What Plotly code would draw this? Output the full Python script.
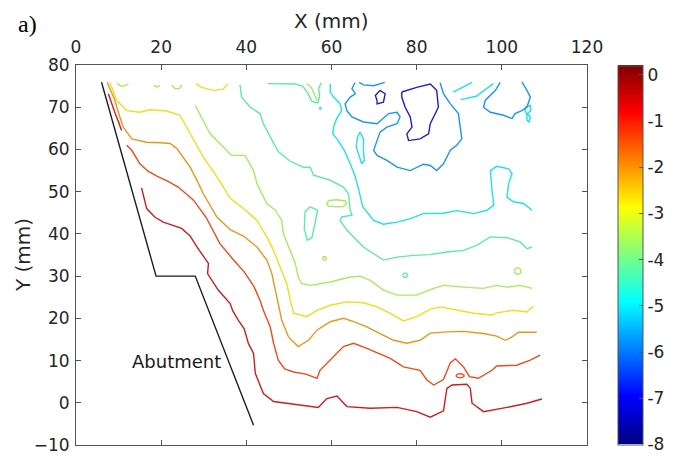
import plotly.graph_objects as go
from plotly.colors import sample_colorscale

# ---------------- data (mm) ----------------
x_ticks = [0, 20, 40, 60, 80, 100, 120]
y_ticks = [-10, 0, 10, 20, 30, 40, 50, 60, 70, 80]
cbar_ticks = [-8, -7, -6, -5, -4, -3, -2, -1, 0]

abutment_x = [6.0, 18.8, 28.0, 41.7]
abutment_y = [75.9, 30.0, 30.0, -5.3]
abutment_label = "Abutment"

levels = [-0.55, -1.29, -2.04, -2.78, -3.53, -4.27, -5.0, -5.76, -6.5, -7.25]

lvl_055 = [
    [(15.4, 50.9), (16.6, 46.0), (18.5, 44.0), (20.5, 42.8), (24.8, 41.3), (26.8, 39.5), (28.4, 36.9),
     (31.1, 33.0), (30.9, 30.6), (33.4, 26.7), (36.2, 23.5), (36.8, 21.8), (38.1, 19.6), (39.5, 17.5),
     (40.5, 14.0), (41.7, 11.7), (42.1, 7.0), (44.0, 2.2), (46.4, 0.3), (51.8, -0.5), (56.9, -1.1),
     (58.9, 1.0), (61.3, 1.6), (63.6, -0.9), (69.1, -1.3), (75.4, -1.1), (80.0, -2.1), (83.2, -3.4),
     (86.3, -1.9), (87.1, 3.4), (88.3, 4.2), (91.8, 4.4), (92.6, 3.4), (93.0, -0.1), (95.7, -2.1),
     (101.2, -1.1), (105.9, -0.1), (109.4, 0.9)],
    [(7.6, 73.2), (8.3, 71.0), (9.2, 68.5), (10.0, 66.5), (10.7, 64.5)],
]
lvl_129 = [
    [(11.9, 61.0), (13.1, 59.8), (15.0, 56.6), (17.0, 54.8), (19.0, 53.7), (21.5, 52.5), (24.0, 51.1),
     (27.6, 48.0), (30.5, 44.0), (33.8, 37.7), (37.0, 33.8), (39.5, 31.0), (41.8, 27.5), (43.2, 24.3),
     (44.0, 21.9), (45.6, 18.0), (46.4, 14.1), (47.5, 10.1), (49.0, 8.0), (51.1, 7.3), (54.0, 6.8),
     (56.6, 5.8), (57.3, 7.7), (59.7, 10.1), (62.8, 13.3), (65.2, 14.1), (68.3, 12.9), (73.8, 10.5),
     (76.9, 8.5), (80.8, 7.7), (82.4, 5.4), (84.0, 4.2), (86.3, 5.5), (87.9, 9.5), (89.1, 10.4),
     (91.0, 8.5), (92.4, 6.2), (94.5, 5.8), (97.7, 7.7), (98.8, 8.7), (103.5, 8.9), (106.7, 10.1),
     (109.0, 11.3)],
    [(89.2, 6.4), (89.6, 6.8), (90.4, 6.9), (91.1, 6.6), (91.1, 6.2), (90.4, 5.9), (89.6, 6.0), (89.2, 6.4)],
]
lvl_204 = [
    [(7.3, 75.9), (9.0, 72.0), (10.2, 68.0), (11.1, 65.3), (13.1, 62.5), (16.6, 61.7), (20.0, 61.6),
     (22.1, 61.4), (23.7, 60.2), (26.8, 55.8), (28.5, 52.5), (29.9, 49.5), (33.1, 44.0), (36.2, 41.0),
     (39.3, 39.5), (42.5, 36.9), (44.8, 33.8), (46.0, 30.6), (46.8, 26.7), (47.3, 24.3), (48.3, 19.6),
     (49.9, 15.6), (52.2, 13.3), (54.6, 14.8), (56.6, 17.2), (59.7, 19.2), (62.8, 20.0), (65.2, 19.2),
     (68.3, 18.0), (71.4, 16.4), (74.6, 14.8), (77.7, 14.1), (80.8, 14.8), (83.2, 16.5), (87.1, 16.8),
     (91.0, 16.9), (95.7, 16.4), (98.8, 15.8), (100.8, 14.8), (102.4, 15.6), (103.9, 16.7), (108.2, 16.7)],
]
lvl_278 = [
    [(7.9, 75.9), (9.6, 71.6), (11.9, 69.2), (15.0, 68.8), (17.4, 69.4), (21.3, 69.1), (24.4, 68.1),
     (26.8, 63.7), (29.9, 58.2), (33.1, 53.5), (36.2, 48.5), (39.3, 46.0), (42.5, 43.2), (44.8, 39.3),
     (46.4, 36.1), (47.9, 32.2), (49.5, 28.2), (50.3, 24.3), (51.1, 21.2), (54.2, 20.4), (56.6, 21.9),
     (59.7, 23.1), (63.6, 23.9), (67.5, 23.7), (70.7, 22.7), (73.8, 21.2), (76.9, 19.4), (80.0, 20.4),
     (83.2, 22.2), (85.5, 22.7), (89.4, 21.9), (93.4, 21.2), (97.7, 20.8), (98.8, 21.3), (102.7, 21.9),
     (105.9, 21.5), (106.7, 22.3), (107.4, 22.9)],
    [(28.2, 75.6), (29.5, 74.7), (32.3, 74.0), (34.6, 74.3), (35.6, 75.6)],
]
lvl_353 = [
    [(28.0, 70.4), (29.9, 66.9), (31.5, 63.7), (34.6, 60.6), (36.5, 58.6), (39.7, 58.6), (40.9, 56.6),
     (41.7, 55.0), (42.5, 51.9), (43.6, 49.5), (44.8, 47.2), (46.8, 45.6), (48.3, 43.2), (48.7, 40.1),
     (50.3, 36.1), (51.5, 33.0), (52.2, 29.8), (53.0, 28.2), (55.0, 27.8), (59.7, 28.6), (64.4, 29.8),
     (66.7, 30.0), (69.1, 29.0), (72.2, 26.7), (75.4, 25.5), (80.0, 25.5), (84.0, 27.1), (86.3, 27.8),
     (91.0, 27.4), (95.7, 27.1), (98.8, 27.8), (101.2, 27.4), (104.3, 27.8), (107.1, 27.1)],
    [(9.6, 75.7), (10.7, 74.9), (12.3, 75.4)],
    [(18.2, 75.2), (19.0, 74.8), (19.7, 75.2)],
    [(22.5, 75.3), (23.2, 74.4), (24.3, 74.4), (24.8, 75.3)],
    [(58.8, 47.2), (59.5, 47.9), (61.2, 48.1), (63.2, 47.8), (63.6, 47.2), (62.8, 46.5), (61.0, 46.4),
     (59.3, 46.6), (58.8, 47.2)],
    [(102.9, 31.2), (103.2, 31.8), (103.9, 32.0), (104.5, 31.5), (104.4, 30.7), (103.7, 30.4),
     (103.1, 30.7), (102.9, 31.2)],
    [(57.9, 34.2), (58.1, 34.6), (58.6, 34.6), (58.8, 34.2), (58.5, 33.8), (58.0, 33.9), (57.9, 34.2)],
    [(54.2, 75.6), (55.3, 74.6), (56.0, 73.0), (56.6, 71.6)],
]
lvl_427 = [
    [(38.5, 75.3), (38.9, 72.4), (40.9, 70.0), (43.2, 68.5), (44.0, 66.1), (45.6, 62.9), (46.4, 61.5),
     (47.5, 59.5), (50.3, 57.2), (53.4, 55.8), (55.0, 55.8), (55.8, 53.9), (59.7, 52.7), (62.8, 51.1),
     (64.0, 49.5), (64.4, 45.6), (64.8, 44.4), (62.4, 44.0), (62.0, 43.2), (63.6, 40.9), (66.0, 38.5),
     (67.5, 36.9), (69.9, 35.3), (72.2, 33.8), (75.4, 34.5), (79.3, 34.9), (83.2, 35.1), (87.1, 35.7),
     (91.0, 36.1), (94.1, 37.3), (97.3, 39.3), (101.2, 39.1), (104.3, 38.1), (105.9, 36.5), (107.1, 36.9)],
    [(55.0, 46.4), (56.7, 45.6), (56.2, 42.8), (55.4, 39.1), (54.3, 38.5), (53.6, 41.2), (53.8, 45.2),
     (55.0, 46.4)],
    [(76.7, 30.2), (77.0, 30.7), (77.6, 30.7), (77.9, 30.2), (77.6, 29.7), (77.0, 29.7), (76.7, 30.2)],
    [(45.0, 75.6), (48.0, 75.6), (51.5, 75.5), (53.2, 75.0), (54.3, 73.6), (55.4, 71.4), (56.8, 71.0),
     (57.2, 72.6), (57.0, 74.5), (57.6, 75.8)],
    [(57.1, 69.8), (57.4, 70.0), (57.6, 69.7), (57.3, 69.5), (57.1, 69.8)],
]
lvl_500 = [
    [(59.7, 75.5), (59.7, 73.6), (60.5, 72.4), (62.0, 70.8), (62.4, 69.2), (61.2, 67.3), (60.5, 65.3),
     (60.3, 63.7), (61.5, 62.2), (63.0, 59.8), (64.4, 56.6), (65.6, 53.5), (66.5, 50.0), (67.3, 46.5),
     (69.9, 43.2), (72.2, 42.3), (75.4, 42.8), (78.5, 43.6), (81.6, 44.8), (86.3, 44.9), (89.4, 45.5),
     (93.4, 44.8), (96.5, 45.6), (98.1, 46.8), (97.7, 50.3), (97.3, 55.0), (98.8, 56.0), (101.6, 55.4),
     (102.4, 54.3), (101.6, 51.9), (101.2, 48.7), (102.7, 47.6), (105.1, 47.2), (107.1, 45.6)],
    [(66.7, 64.1), (67.5, 62.5), (67.5, 59.8), (67.7, 57.4), (67.1, 56.6), (66.5, 58.6), (65.8, 60.6),
     (66.1, 62.9), (66.7, 64.1)],
    [(105.5, 70.0), (106.7, 70.4), (106.8, 69.2), (106.0, 68.5), (106.7, 67.7), (106.4, 66.5),
     (105.9, 66.9), (105.9, 68.1), (105.5, 69.2), (105.5, 70.0)],
    [(88.6, 73.6), (93.0, 75.9)],
    [(90.3, 71.8), (94.0, 72.6), (98.0, 75.6)],
]
lvl_576 = [
    [(65.5, 75.8), (64.8, 74.4), (65.6, 73.2), (64.4, 72.4), (63.2, 70.8), (63.6, 69.2), (64.8, 67.7),
     (67.5, 66.5), (70.7, 66.1), (73.4, 68.5), (75.4, 68.8), (76.1, 67.7), (75.4, 66.1), (73.0, 65.3),
     (71.4, 64.1), (70.7, 62.1), (69.9, 59.8), (70.7, 58.6), (73.0, 57.4), (75.4, 55.8), (78.5, 55.0),
     (81.6, 56.5), (83.2, 56.2), (84.7, 55.0), (86.3, 56.6), (87.9, 59.8), (89.4, 61.0), (90.6, 62.5),
     (90.2, 65.3), (89.8, 68.5), (87.9, 70.8), (86.3, 73.2), (85.5, 75.8)],
    [(66.5, 75.9), (67.5, 75.3), (69.9, 75.1), (71.4, 75.5), (72.5, 75.9)],
    [(99.6, 75.9), (98.5, 74.0), (96.1, 71.6), (95.7, 70.0), (97.3, 68.8), (100.4, 68.1), (102.4, 67.3),
     (103.1, 68.5), (104.7, 69.2), (105.9, 70.0), (106.7, 72.4), (105.9, 74.0), (104.7, 76.0)],
]
lvl_650 = []
lvl_725 = [
    [(76.5, 73.6), (80.0, 74.7), (83.2, 75.5), (84.7, 74.0), (85.1, 70.0), (83.2, 66.1), (82.8, 63.7),
     (80.8, 62.5), (78.1, 62.1), (77.7, 63.7), (78.9, 65.3), (78.5, 67.7), (77.3, 70.0), (76.5, 72.4),
     (76.5, 73.6)],
    [(70.7, 71.6), (70.3, 72.8), (71.4, 74.0), (72.6, 73.2), (72.2, 71.2), (70.7, 70.8), (70.7, 71.6)],
]
contour_segments = [lvl_055, lvl_129, lvl_204, lvl_278, lvl_353, lvl_427, lvl_500, lvl_576, lvl_650, lvl_725]

# ---------------- style ----------------
CMIN, CMAX = -8.0, 0.2
jet = [[0.0, "rgb(0,0,128)"], [0.125, "rgb(0,0,255)"], [0.375, "rgb(0,255,255)"],
       [0.625, "rgb(255,255,0)"], [0.875, "rgb(255,0,0)"], [1.0, "rgb(128,0,0)"]]
FONT = "DejaVu Sans"
TXT = "#262626"
AX = "#555555"


def level_color(v):
    c = sample_colorscale(jet, [(v - CMIN) / (CMAX - CMIN)])[0]
    r, g, b = [float(t) for t in c[c.index("(") + 1:-1].split(",")]
    k = 0.8
    r, g, b = [k * t + (1 - k) * 150 for t in (r, g, b)]
    return "rgb(%d,%d,%d)" % (r, g, b)


fig = go.Figure()
for lv, segs in zip(levels, contour_segments):
    col = level_color(lv)
    for seg in segs:
        xs = [p[0] for p in seg]
        ys = [p[1] for p in seg]
        fig.add_trace(go.Scatter(x=xs, y=ys, mode="lines", line=dict(color=col, width=1.4),
                                 showlegend=False, hoverinfo="skip"))

fig.add_trace(go.Scatter(x=abutment_x, y=abutment_y, mode="lines",
                         line=dict(color="#1e1e1e", width=1.4), showlegend=False, hoverinfo="skip"))

# colorbar carrier
fig.add_trace(go.Scatter(
    x=[None], y=[None], mode="markers", showlegend=False, hoverinfo="skip",
    marker=dict(color=[CMIN], cmin=CMIN, cmax=CMAX, colorscale=jet, showscale=True,
                colorbar=dict(thickness=25, thicknessmode="pixels", len=379, lenmode="pixels",
                              x=1.0607, xanchor="left", xpad=0, y=0.5, yanchor="middle", ypad=0,
                              outlinewidth=1, outlinecolor=AX, ticks="inside", ticklen=4,
                              tickcolor=AX, tickvals=cbar_ticks,
                              ticktext=[str(t) for t in cbar_ticks],
                              tickfont=dict(family=FONT, size=17, color=TXT)))))

fig.add_annotation(x=23.7, y=9.8, xref="x", yref="y", text=abutment_label, showarrow=False,
                   font=dict(family=FONT, size=18, color="#1a1a1a"))
fig.add_annotation(x=-0.116, y=1.1435, xref="paper", yref="paper", text="a)", showarrow=False,
                   xanchor="left", yanchor="top", borderpad=0,
                   font=dict(family="Liberation Serif", size=24, color="#000000"))
fig.add_annotation(x=0.5, y=1.1156, xref="paper", yref="paper", text="X (mm)", showarrow=False,
                   xanchor="center", yanchor="middle",
                   font=dict(family=FONT, size=20, color=TXT))
fig.add_annotation(x=-0.1037, y=0.5, xref="paper", yref="paper", text="Y (mm)", showarrow=False,
                   xanchor="center", yanchor="middle", textangle=-90,
                   font=dict(family=FONT, size=20, color=TXT))

axis_common = dict(showgrid=False, zeroline=False, showline=True, linecolor=AX, linewidth=1,
                   mirror="ticks", ticks="inside", ticklen=5, tickcolor=AX, automargin=False,
                   tickfont=dict(family=FONT, size=17, color=TXT))
fig.update_xaxes(range=[0, 120], side="top", tickvals=x_ticks, ticklabelstandoff=4, **axis_common)
fig.update_yaxes(range=[-10, 80], tickvals=y_ticks, ticklabelstandoff=2, **axis_common)

# the page places the figure 8 px in from the top-left corner
fig.update_layout(width=676, height=454, margin=dict(l=68, r=97, t=56.5, b=17, pad=0),
                  plot_bgcolor="white", paper_bgcolor="white", showlegend=False)

fig.write_html("out.html")
